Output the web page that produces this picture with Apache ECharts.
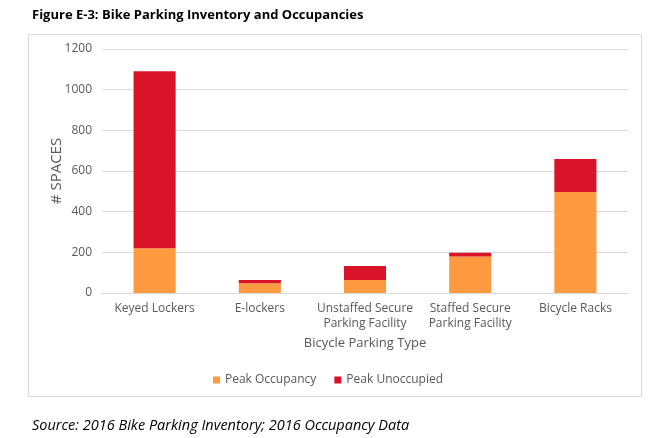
<!DOCTYPE html>
<html>
<head>
<meta charset="utf-8">
<script src="https://cdn.jsdelivr.net/npm/echarts@6/dist/echarts.min.js"></script>
<style>
  html, body { margin: 0; padding: 0; background: #fff; }
  #chart { width: 656px; height: 438px; }
</style>
</head>
<body>
<div id="chart"></div>
<script>
const categories = [
  "Keyed Lockers",
  "E-lockers",
  "Unstaffed Secure\nParking Facility",
  "Staffed Secure\nParking Facility",
  "Bicycle Racks"
];
const peakOccupancy = [220, 48, 64, 179, 497];
const peakUnoccupied = [870, 16, 69, 19, 162];
const yTicks = [0, 200, 400, 600, 800, 1000, 1200];

const font = "'Open Sans', 'DejaVu Sans', sans-serif";
const grey = "#595959";

const chart = echarts.init(document.getElementById("chart"));
chart.setOption({
  animation: false,
  textStyle: { fontFamily: font },
  title: [
    {
      text: "Figure E-3: Bike Parking Inventory and Occupancies",
      left: 27,
      top: 4,
      textStyle: { fontSize: 13, fontWeight: "bold", color: "#000", fontFamily: font }
    },
    {
      text: "Source: 2016 Bike Parking Inventory; 2016 Occupancy Data",
      left: 27,
      top: 413,
      textStyle: { fontSize: 14.5, fontWeight: "normal", fontStyle: "italic", color: "#000", fontFamily: font }
    }
  ],
  graphic: [
    {
      type: "rect",
      shape: { x: 28.5, y: 34.5, width: 613, height: 362 },
      style: { fill: "none", stroke: "#d9d9d9", lineWidth: 1 },
      silent: true
    }
  ],
  legend: {
    data: ["Peak Occupancy", "Peak Unoccupied"],
    top: 369,
    left: "center",
    itemWidth: 7,
    itemHeight: 7,
    itemGap: 18,
    icon: "rect",
    textStyle: { color: grey, fontSize: 12, fontFamily: font }
  },
  grid: {
    left: 102,
    right: 28,
    top: 49,
    bottom: 145,
    containLabel: false
  },
  xAxis: {
    type: "category",
    data: categories,
    name: "Bicycle Parking Type",
    nameLocation: "middle",
    nameGap: 44,
    nameTextStyle: { color: grey, fontSize: 13 },
    axisLine: { show: true, lineStyle: { color: "#d9d9d9" } },
    axisTick: { show: false },
    axisLabel: { color: grey, fontSize: 12, lineHeight: 15, margin: 8, interval: 0 }
  },
  yAxis: {
    type: "value",
    min: yTicks[0],
    max: yTicks[yTicks.length - 1],
    interval: 200,
    name: "# SPACES",
    nameLocation: "middle",
    nameGap: 38,
    nameMoveOverlap: false,
    nameTextStyle: { color: grey, fontSize: 15 },
    axisLine: { show: false },
    axisTick: { show: false },
    axisLabel: { color: grey, fontSize: 12, margin: 10, formatter: v => String(v) },
    splitLine: { lineStyle: { color: "#d9d9d9" } }
  },
  series: [
    {
      name: "Peak Occupancy",
      type: "bar",
      stack: "total",
      barWidth: "40%",
      itemStyle: { color: "#FD9A40" },
      data: peakOccupancy
    },
    {
      name: "Peak Unoccupied",
      type: "bar",
      stack: "total",
      barWidth: "40%",
      itemStyle: { color: "#D91428" },
      data: peakUnoccupied
    }
  ]
});
</script>
</body>
</html>
